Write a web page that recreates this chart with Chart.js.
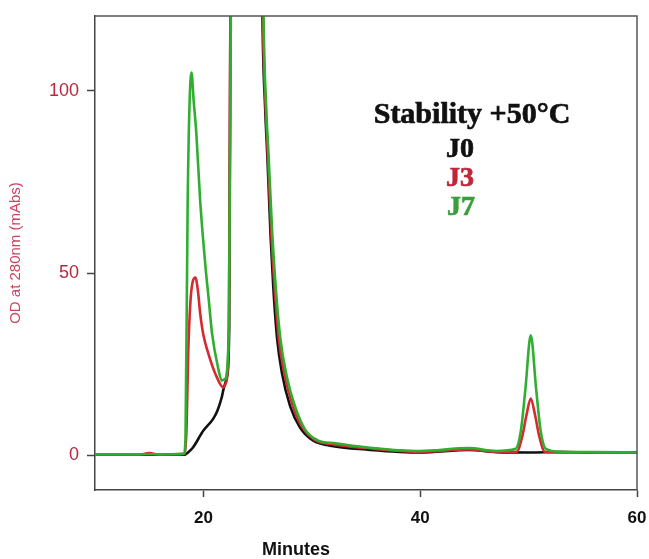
<!DOCTYPE html>
<html>
<head>
<meta charset="utf-8">
<script src="https://cdn.jsdelivr.net/npm/chart.js@4.4.1/dist/chart.umd.min.js"></script>
<style>
  html, body { margin: 0; padding: 0; background: #ffffff; }
  #wrap { width: 649px; height: 559px; }
</style>
</head>
<body>
<div id="wrap"><canvas id="c" width="649" height="559"></canvas></div>
<script>
// ---- Data (minutes, mAbs) ----
const j0X = [10, 14, 17, 18.3, 18.5, 19.0, 20.0, 20.9, 21.3, 21.7, 21.9, 22.2, 22.38, 22.5, 24.0, 25.45, 25.7, 25.9, 26.2, 26.45, 26.8, 27.25, 28.0, 28.9, 30.1, 32.0, 35, 40, 44.5, 47, 50, 53, 56, 60];
const j0Y = [0.2, 0.2, 0.2, 0.2, 0.6, 2.0, 6.8, 10.0, 12.3, 16.0, 18.7, 22, 35, 130, 600, 120, 95, 82, 60, 46, 32, 22.5, 13.5, 7.7, 4.1, 2.5, 1.6, 0.8, 1.5, 0.9, 0.8, 0.9, 0.8, 0.8];

const j3X = [10, 14, 15, 16, 18.3, 18.45, 18.6, 18.8, 19.0, 19.26, 19.5, 19.7, 20.0, 20.45, 21.1, 21.85, 22.1, 22.35, 22.5, 24.0, 25.5, 25.75, 25.95, 26.28, 26.58, 26.95, 27.5, 28.25, 29.1, 30.3, 32.0, 35, 40, 44.5, 47, 48.9, 49.4, 49.8, 50.2, 50.6, 51.0, 51.5, 53, 56, 60];
const j3Y = [0.2, 0.2, 0.6, 0.2, 0.5, 8, 28, 42, 47.5, 48.8, 45, 39, 33, 28, 22.4, 18.6, 20, 35, 130, 600, 120, 95, 82, 60, 45.5, 32, 22, 13.5, 7.8, 4.2, 3.0, 2.0, 1.0, 1.6, 1.0, 1.0, 5, 11, 15.6, 11, 5, 1.0, 0.9, 0.8, 0.8];

const j7X = [10, 14, 17, 18.2, 18.35, 18.55, 18.9, 19.1, 19.35, 19.7, 20.2, 20.5, 20.8, 21.35, 21.7, 22.0, 22.35, 22.55, 24.0, 25.55, 25.8, 26.0, 26.35, 26.7, 27.1, 27.7, 28.5, 29.4, 30.5, 32.2, 35, 40, 44.5, 47, 48.8, 49.3, 49.7, 50.2, 50.7, 51.1, 51.6, 53, 56, 60];
const j7Y = [0.3, 0.3, 0.3, 0.4, 5, 70, 105, 97.3, 88.2, 69.9, 51.5, 42.5, 33.4, 24.1, 20.5, 21, 35, 130, 600, 120, 95, 83, 61, 45, 32, 21.5, 13, 7, 4.2, 3.3, 2.2, 1.2, 2.0, 1.2, 1.8, 7, 18, 32.9, 18, 7, 1.8, 1.0, 0.9, 0.8];

const xTicks = [20, 40, 60];
const yTicks = [0, 50, 100];
const seriesNames = ['J0', 'J3', 'J7'];
const titleText = 'Stability +50°C';
const xTitle = 'Minutes';
const yTitle = 'OD at 280nm (mAbs)';

function pts(xs, ys) { return xs.map((x, i) => ({ x: x, y: ys[i] })); }

const COL_J0 = '#111111';
const COL_J3 = '#d42a30';
const COL_J7 = '#2fae2f';

function boldText(ctx, text, x, y, color) {
  ctx.fillStyle = color;
  ctx.strokeStyle = color;
  ctx.lineWidth = 0.7;
  ctx.fillText(text, x, y);
  ctx.strokeText(text, x, y);
}

const framePlugin = {
  id: 'frame',
  afterDatasetsDraw(chart) {
    const { ctx, chartArea: a } = chart;
    ctx.save();
    ctx.strokeStyle = '#555555';
    ctx.lineWidth = 1.5;
    ctx.beginPath();
    ctx.moveTo(a.left, a.top);
    ctx.lineTo(a.right, a.top);
    ctx.lineTo(a.right, a.bottom);
    ctx.stroke();
    ctx.restore();
  },
  afterDraw(chart) {
    const { ctx } = chart;
    ctx.save();
    ctx.textAlign = 'center';
    ctx.textBaseline = 'middle';
    ctx.font = 'bold 30px "Liberation Serif", "Times New Roman", serif';
    boldText(ctx, titleText, 472, 115, '#111111');
    ctx.font = 'bold 28px "Liberation Serif", "Times New Roman", serif';
    boldText(ctx, seriesNames[0], 460, 150, '#111111');
    boldText(ctx, seriesNames[1], 460, 179, '#c0263a');
    boldText(ctx, seriesNames[2], 461, 208, '#3a9f3a');
    ctx.fillStyle = '#111111';
    ctx.font = 'bold 18px "Liberation Sans", Arial, sans-serif';
    ctx.fillText(xTitle, 296, 550);
    ctx.restore();
  }
};

new Chart(document.getElementById('c'), {
  type: 'line',
  data: {
    datasets: [
      { label: seriesNames[0], data: pts(j0X, j0Y), borderColor: COL_J0, borderWidth: 2.6, pointRadius: 0, cubicInterpolationMode: 'monotone', order: 3 },
      { label: seriesNames[1], data: pts(j3X, j3Y), borderColor: COL_J3, borderWidth: 2.6, pointRadius: 0, cubicInterpolationMode: 'monotone', order: 2 },
      { label: seriesNames[2], data: pts(j7X, j7Y), borderColor: COL_J7, borderWidth: 2.6, pointRadius: 0, cubicInterpolationMode: 'monotone', order: 1 }
    ]
  },
  options: {
    responsive: false,
    animation: false,
    layout: { padding: { top: 16, right: 12, left: 0, bottom: 0 } },
    plugins: { legend: { display: false }, tooltip: { enabled: false } },
    scales: {
      x: {
        type: 'linear',
        min: 10, max: 60,
        afterFit(s) { s.height = 69; s.paddingRight = 0; s.paddingLeft = 0; },
        afterBuildTicks(s) { s.ticks = xTicks.map(v => ({ value: v })); },
        grid: { drawOnChartArea: false, drawTicks: true, tickLength: 7, color: '#444444', tickWidth: 1.5 },
        border: { display: true, color: '#444444', width: 1.5 },
        ticks: { color: '#111111', font: { family: '"Liberation Sans", Arial, sans-serif', size: 17, weight: 'bold' }, padding: 11, maxRotation: 0 }
      },
      y: {
        type: 'linear',
        min: -9.5, max: 120.5,
        afterFit(s) { s.width = 95; s.paddingTop = 0; s.paddingBottom = 0; },
        afterBuildTicks(s) { s.ticks = yTicks.map(v => ({ value: v })); },
        grid: { drawOnChartArea: false, drawTicks: true, tickLength: 8, color: '#444444', tickWidth: 1.5 },
        border: { display: true, color: '#444444', width: 1.5 },
        ticks: { color: '#b8283f', font: { family: '"Liberation Sans", Arial, sans-serif', size: 18 }, padding: 8 },
        title: { display: true, text: yTitle, color: '#cc4560', font: { family: '"Liberation Sans", Arial, sans-serif', size: 15 }, padding: { top: 7, bottom: 0 } }
      }
    }
  },
  plugins: [framePlugin]
});
</script>
</body>
</html>
